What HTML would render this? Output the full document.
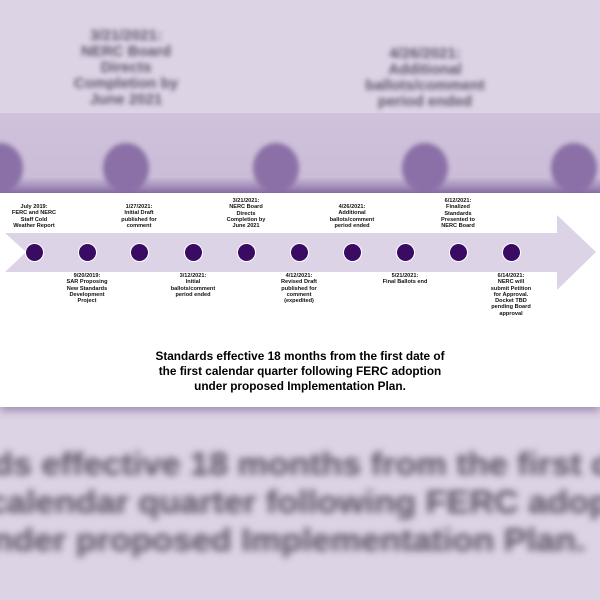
<!DOCTYPE html>
<html><head><style>
body{margin:0;width:600px;height:600px;overflow:hidden;background:#dcd3e5;position:relative;font-family:"Liberation Sans",sans-serif}
.a{position:absolute}
.blur{filter:blur(2.5px)}
.bt{position:absolute;text-align:center;font-weight:bold;color:#5f5669;font-size:15px;line-height:16px;filter:blur(2.5px)}
.big{position:absolute;left:0;white-space:nowrap;font-weight:bold;font-size:32px;color:#585060;filter:blur(3.5px);transform:scaleX(1.07);transform-origin:0 0}
.lab{position:absolute;width:60px;text-align:center;font-weight:bold;font-size:5.6px;line-height:6.3px;color:#111}
.c{position:absolute;width:17px;height:17px;border-radius:50%;background:#3a0b63;border:1.2px solid #fff;top:243px}
</style></head><body>
<div class="a" style="left:0;top:113px;width:600px;height:80px;background:linear-gradient(#cfc2db,#cbbdd8 80%,#8a70a6)"></div>
<div class="a blur" style="left:-23px;top:143px;width:46px;height:50px;border-radius:50%;background:#8a70a6"></div>
<div class="a blur" style="left:103px;top:143px;width:46px;height:50px;border-radius:50%;background:#8a70a6"></div>
<div class="a blur" style="left:253px;top:143px;width:46px;height:50px;border-radius:50%;background:#8a70a6"></div>
<div class="a blur" style="left:402px;top:143px;width:46px;height:50px;border-radius:50%;background:#8a70a6"></div>
<div class="a blur" style="left:551px;top:143px;width:46px;height:50px;border-radius:50%;background:#8a70a6"></div>
<div class="bt" style="left:56px;top:28px;width:140px">3/21/2021:<br>NERC Board<br>Directs<br>Completion by<br>June 2021</div>
<div class="bt" style="left:350px;top:46px;width:150px">4/26/2021:<br>Additional<br>ballots/comment<br>period ended</div>
<div class="big" style="top:446px;left:-8px">ds effective 18 months from the first d</div>
<div class="big" style="top:484px;left:-12px">calendar quarter following FERC adop</div>
<div class="big" style="top:522px;left:-8px">nder proposed Implementation Plan.</div>
<div class="a" style="left:0;top:193px;width:600px;height:214px;background:#fff;box-shadow:0 4px 8px rgba(90,60,120,.45)"></div>
<svg class="a" style="left:0;top:0" width="600" height="600"><polygon points="5,233 557,233 557,215 596,252 557,290 557,272 5,272 26,252" fill="#dcd3e6"/></svg>
<div class="c" style="left:25px"></div><div class="c" style="left:78px"></div><div class="c" style="left:130px"></div><div class="c" style="left:184px"></div><div class="c" style="left:237px"></div><div class="c" style="left:290px"></div><div class="c" style="left:343px"></div><div class="c" style="left:396px"></div><div class="c" style="left:449px"></div><div class="c" style="left:502px"></div>
<div class="lab" style="left:4px;top:204px">July 2019:<br>FERC and NERC<br>Staff Cold<br>Weather Report</div>
<div class="lab" style="left:109px;top:204px">1/27/2021:<br>Initial Draft<br>published for<br>comment</div>
<div class="lab" style="left:216px;top:198px">3/21/2021:<br>NERC Board<br>Directs<br>Completion by<br>June 2021</div>
<div class="lab" style="left:322px;top:204px">4/26/2021:<br>Additional<br>ballots/comment<br>period ended</div>
<div class="lab" style="left:428px;top:198px">6/12/2021:<br>Finalized<br>Standards<br>Presented to<br>NERC Board</div>
<div class="lab" style="left:57px;top:273px">9/20/2019:<br>SAR Proposing<br>New Standards<br>Development<br>Project</div>
<div class="lab" style="left:163px;top:273px">3/12/2021:<br>Initial<br>ballots/comment<br>period ended</div>
<div class="lab" style="left:269px;top:273px">4/12/2021:<br>Revised Draft<br>published for<br>comment<br>(expedited)</div>
<div class="lab" style="left:375px;top:273px">5/21/2021:<br>Final Ballots end</div>
<div class="lab" style="left:481px;top:273px">6/14/2021:<br>NERC will<br>submit Petition<br>for Approval.<br>Docket TBD<br>pending Board<br>approval</div>
<div class="a" style="left:100px;top:349px;width:400px;text-align:center;font-weight:bold;font-size:11.8px;line-height:15px;color:#000">Standards effective 18 months from the first date of<br>the first calendar quarter following FERC adoption<br>under proposed Implementation Plan.</div>
</body></html>
